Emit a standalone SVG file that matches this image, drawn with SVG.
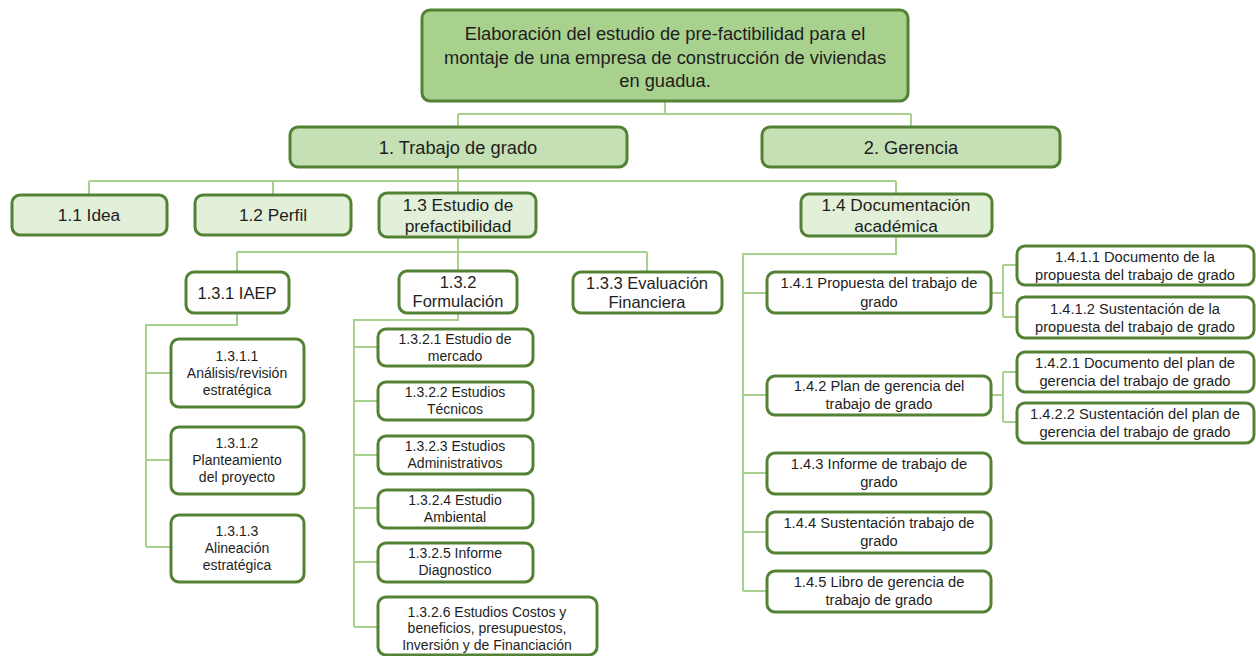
<svg xmlns="http://www.w3.org/2000/svg" width="1256" height="656" viewBox="0 0 1256 656">
<style>
rect{stroke:#548235;stroke-width:3;rx:8;ry:8}
.l0{fill:#a9d18e}
.l1{fill:#c5e0b4}
.l2{fill:#e2f0d9}
.w{fill:#ffffff}
text{font-family:"Liberation Sans",Arial,sans-serif;fill:#1e1e1e;text-anchor:middle}
.f0{font-size:18.3px}
.f2{font-size:17.3px}
.f3{font-size:16.5px}
.f4{font-size:14px}
.f5{font-size:14.7px}
.c path{fill:none;stroke:#a9d18e;stroke-width:2}
</style>
<rect x="0" y="0" width="1256" height="656" fill="#ffffff" style="stroke:none"/>
<g class="c" id="connectors">
<path d="M665 101V114M458 114H911M458 114V127M911 114V127"/>
<path d="M458 167V181M89 181H896M89 181V195M273 181V195M458 181V193M896 181V194"/>
<path d="M458 237V252M237 252H647M237 252V272M458 252V271M647 252V272"/>
<path d="M237 313V325H146V547M146 373H171M146 460H171M146 547H171"/>
<path d="M458 313V320H354V627M354 347H378M354 401H378M354 455H378M354 508H378M354 562H378M354 627H378"/>
<path d="M896 236V254H743V591M743 293H767M743 395H767M743 473H767M743 532H767M743 591H767"/>
<path d="M991 293H1003M1003 265V317M1003 265H1017M1003 317H1017"/>
<path d="M991 395H1003M1003 372V422M1003 372H1017M1003 422H1017"/>
</g>
<g id="n0"><rect class="l0" x="422" y="10" width="486" height="91"/>
<text class="f0"><tspan x="665" y="39.5">Elaboración del estudio de pre-factibilidad para el</tspan><tspan x="665" y="63.5">montaje de una empresa de construcción de viviendas</tspan><tspan x="665" y="86.5">en guadua.</tspan></text></g>
<g id="n1"><rect class="l1" x="290" y="127" width="337" height="40"/><text x="458" y="153.5" class="f0">1. Trabajo de grado</text></g>
<g id="n2"><rect class="l1" x="762" y="127" width="298" height="40"/><text x="911" y="153.5" class="f0">2. Gerencia</text></g>
<g id="n11"><rect class="l2" x="12" y="195" width="155" height="40"/><text x="89" y="221" class="f2">1.1 Idea</text></g>
<g id="n12"><rect class="l2" x="195" y="195" width="156" height="40"/><text x="273" y="221" class="f2">1.2 Perfil</text></g>
<g id="n13"><rect class="l2" x="379" y="193" width="157" height="44"/><text class="f2"><tspan x="458" y="211">1.3 Estudio de</tspan><tspan x="458" y="232">prefactibilidad</tspan></text></g>
<g id="n14"><rect class="l2" x="801" y="194" width="191" height="42"/><text class="f2"><tspan x="896" y="211">1.4 Documentación</tspan><tspan x="896" y="231.5">académica</tspan></text></g>
<g id="n131"><rect class="w" x="186" y="272" width="103" height="41"/><text x="237" y="298.5" class="f3">1.3.1 IAEP</text></g>
<g id="n132"><rect class="w" x="399" y="271" width="118" height="42"/><text class="f3"><tspan x="458" y="288">1.3.2</tspan><tspan x="458" y="307">Formulación</tspan></text></g>
<g id="n133"><rect class="w" x="573" y="272" width="149" height="41"/><text class="f3"><tspan x="647" y="288.5">1.3.3 Evaluación</tspan><tspan x="647" y="307.5">Financiera</tspan></text></g>
<g id="n1311"><rect class="w" x="171" y="339" width="133" height="68"/><text class="f4"><tspan x="237" y="361">1.3.1.1</tspan><tspan x="237" y="378">Análisis/revisión</tspan><tspan x="237" y="395">estratégica</tspan></text></g>
<g id="n1312"><rect class="w" x="171" y="427" width="133" height="67"/><text class="f4"><tspan x="237" y="448">1.3.1.2</tspan><tspan x="237" y="465">Planteamiento</tspan><tspan x="237" y="482">del proyecto</tspan></text></g>
<g id="n1313"><rect class="w" x="171" y="515" width="133" height="67"/><text class="f4"><tspan x="237" y="536">1.3.1.3</tspan><tspan x="237" y="553">Alineación</tspan><tspan x="237" y="570">estratégica</tspan></text></g>
<g id="n1321"><rect class="w" x="378" y="329" width="155" height="37"/><text class="f4"><tspan x="455" y="344">1.3.2.1 Estudio de</tspan><tspan x="455" y="361">mercado</tspan></text></g>
<g id="n1322"><rect class="w" x="378" y="382" width="155" height="38"/><text class="f4"><tspan x="455" y="397">1.3.2.2 Estudios</tspan><tspan x="455" y="414">Técnicos</tspan></text></g>
<g id="n1323"><rect class="w" x="378" y="436" width="155" height="38"/><text class="f4"><tspan x="455" y="451">1.3.2.3 Estudios</tspan><tspan x="455" y="468">Administrativos</tspan></text></g>
<g id="n1324"><rect class="w" x="378" y="490" width="155" height="38"/><text class="f4"><tspan x="455" y="505">1.3.2.4 Estudio</tspan><tspan x="455" y="522">Ambiental</tspan></text></g>
<g id="n1325"><rect class="w" x="378" y="543" width="155" height="39"/><text class="f4"><tspan x="455" y="558">1.3.2.5 Informe</tspan><tspan x="455" y="575">Diagnostico</tspan></text></g>
<g id="n1326"><rect class="w" x="378" y="597" width="219" height="58"/><text class="f4"><tspan x="487" y="617">1.3.2.6 Estudios Costos y</tspan><tspan x="487" y="633">beneficios, presupuestos,</tspan><tspan x="487" y="650">Inversión  y de Financiación</tspan></text></g>
<g id="n141"><rect class="w" x="767" y="272" width="224" height="41"/><text class="f5"><tspan x="879" y="288">1.4.1 Propuesta del trabajo de</tspan><tspan x="879" y="306.5">grado</tspan></text></g>
<g id="n142"><rect class="w" x="767" y="376" width="224" height="39"/><text class="f5"><tspan x="879" y="391">1.4.2 Plan de gerencia del</tspan><tspan x="879" y="409">trabajo de grado</tspan></text></g>
<g id="n143"><rect class="w" x="767" y="453" width="224" height="41"/><text class="f5"><tspan x="879" y="468.5">1.4.3 Informe de trabajo de</tspan><tspan x="879" y="486.5">grado</tspan></text></g>
<g id="n144"><rect class="w" x="767" y="512" width="224" height="41"/><text class="f5"><tspan x="879" y="527.5">1.4.4 Sustentación trabajo de</tspan><tspan x="879" y="545.5">grado</tspan></text></g>
<g id="n145"><rect class="w" x="767" y="571" width="224" height="41"/><text class="f5"><tspan x="879" y="586.5">1.4.5 Libro de gerencia de</tspan><tspan x="879" y="604.5">trabajo de grado</tspan></text></g>
<g id="n1411"><rect class="w" x="1017" y="246" width="237" height="39"/><text class="f5"><tspan x="1135" y="261.5">1.4.1.1 Documento de la</tspan><tspan x="1135" y="279.5">propuesta del trabajo de grado</tspan></text></g>
<g id="n1412"><rect class="w" x="1017" y="297" width="237" height="41"/><text class="f5"><tspan x="1135" y="313.5">1.4.1.2 Sustentación de la</tspan><tspan x="1135" y="331.5">propuesta del trabajo de grado</tspan></text></g>
<g id="n1421"><rect class="w" x="1017" y="352" width="237" height="40"/><text class="f5"><tspan x="1135" y="367.5">1.4.2.1 Documento del plan de</tspan><tspan x="1135" y="385.5">gerencia del trabajo de grado</tspan></text></g>
<g id="n1422"><rect class="w" x="1017" y="403" width="237" height="40"/><text class="f5"><tspan x="1135" y="418.5">1.4.2.2 Sustentación del plan de</tspan><tspan x="1135" y="436.5">gerencia del trabajo de grado</tspan></text></g>
</svg>
